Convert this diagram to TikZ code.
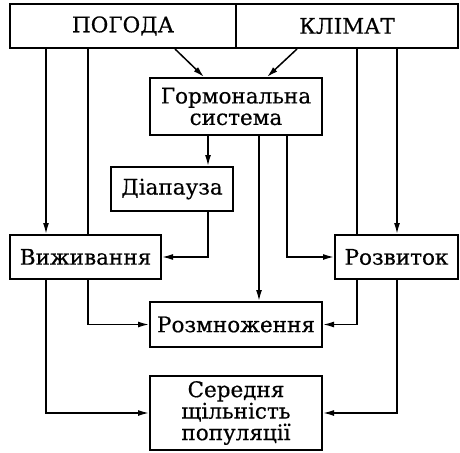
\documentclass[tikz,border=0pt]{standalone}
\usepackage{fontspec}
\setmainfont{DejaVu Serif}[UprightFeatures={FakeBold=0.5}]
\usetikzlibrary{arrows.meta}
\begin{document}
\begin{tikzpicture}[x=1pt,y=-1pt,
  box/.style={draw,line width=2pt,inner sep=0pt,align=center,
    font=\fontsize{21.5}{21.5}\selectfont},
  conn/.style={line width=1.5pt},
  arr/.style={conn,-{Latex[length=11pt,width=6pt]}}]
\useasboundingbox[fill=white] (0,0) rectangle (460,452);
\node[box,minimum width=226pt,minimum height=44pt] (pog) at (123,26) {ПОГОДА};
\node[box,minimum width=222pt,minimum height=44pt] (klim) at (347,26) {КЛІМАТ};
\node[box,minimum width=172pt,minimum height=57pt] (horm) at (236,106.5) {Гормональна\\система};
\node[box,minimum width=122pt,minimum height=44pt] (diap) at (172,189) {Діапауза};
\node[box,minimum width=151pt,minimum height=44pt] (vyzh) at (85.5,257) {Виживання};
\node[box,minimum width=123pt,minimum height=44pt] (rozv) at (396.5,257) {Розвиток};
\node[box,minimum width=172pt,minimum height=45pt] (rozm) at (236,324.5) {Розмноження};
\node[box,minimum width=172pt,minimum height=74pt] (ser) at (236,413) {Середня\\щільність\\популяції};
% x positions
\coordinate (xa) at (46,0);
\coordinate (xb) at (88,0);
\coordinate (xc) at (208,0);
\coordinate (xd) at (259,0);
\coordinate (xe) at (287,0);
\coordinate (xf) at (357,0);
\coordinate (xg) at (397,0);
% from the top box
\draw[arr] (pog.south -| xa) -- (vyzh.north -| xa);
\draw[conn] (pog.south -| xb) -- (vyzh.north -| xb);
\draw[arr] (pog.south -| 175,0) -- (horm.north -| 204,0);
\draw[arr] (klim.south -| 297,0) -- (horm.north -| 267,0);
\draw[conn] (klim.south -| xf) -- (rozv.north -| xf);
\draw[arr] (klim.south -| xg) -- (rozv.north -| xg);
% from hormonal system
\draw[arr] (horm.south -| xc) -- (diap.north -| xc);
\draw[arr] (horm.south -| xd) -- (rozm.north -| xd);
\draw[arr] (horm.south -| xe) |- (rozv.west);
% diapause
\draw[arr] (diap.south -| xc) |- (vyzh.east);
% survival
\draw[arr] (vyzh.south -| xb) |- (rozm.west);
\draw[arr] (vyzh.south -| xa) |- (ser.west);
% development
\draw[arr] (rozv.south -| xf) |- (rozm.east);
\draw[arr] (rozv.south -| xg) |- (ser.east);
\end{tikzpicture}
\end{document}
